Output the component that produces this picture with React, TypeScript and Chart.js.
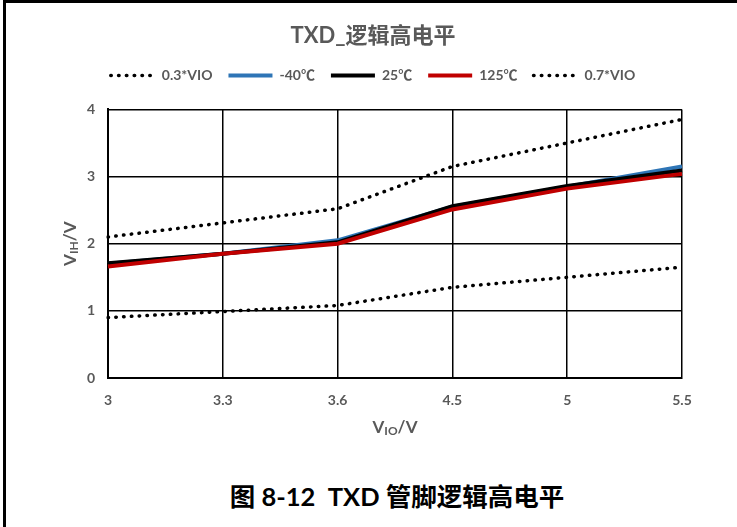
import React, { useEffect, useRef } from "react";
import { Chart, registerables, layouts } from "chart.js";

Chart.register(...registerables);

const categories = ["3", "3.3", "3.6", "4.5", "5", "5.5"];
const vio03 = [0.9, 0.99, 1.08, 1.35, 1.5, 1.65];
const tempM40 = [1.7, 1.85, 2.05, 2.55, 2.85, 3.15];
const temp25 = [1.71, 1.85, 2.02, 2.56, 2.86, 3.09];
const temp125 = [1.66, 1.85, 2.0, 2.51, 2.82, 3.04];
const vio07 = [2.1, 2.31, 2.52, 3.15, 3.5, 3.85];

const chartTitle = "TXD_逻辑高电平";
const caption = "图 8-12  TXD 管脚逻辑高电平";
const FONT = "Lato, 'Noto Sans CJK SC', sans-serif";
const GRAY = "#595959";

function drawSub(ctx: CanvasRenderingContext2D, main: string, sub: string, tail: string, cx: number, cy: number, rot: number) {
  ctx.save();
  ctx.translate(cx, cy);
  ctx.rotate(rot);
  const big = `bold 17px ${FONT}`;
  const small = `bold 12px ${FONT}`;
  ctx.font = big;
  const w1 = ctx.measureText(main).width;
  const w3 = ctx.measureText(tail).width;
  ctx.font = small;
  const w2 = ctx.measureText(sub).width;
  const total = w1 + w2 + w3;
  let x = -total / 2;
  ctx.fillStyle = GRAY;
  ctx.textBaseline = "alphabetic";
  ctx.textAlign = "left";
  ctx.font = big;
  ctx.fillText(main, x, 6);
  x += w1;
  ctx.font = small;
  ctx.fillText(sub, x, 8);
  x += w2;
  ctx.font = big;
  ctx.fillText(tail, x, 6);
  ctx.restore();
}

const axisTitles = {
  id: "axisTitles",
  afterDraw(chart: any) {
    const ctx = chart.ctx as CanvasRenderingContext2D;
    const { left, right, top, bottom } = chart.chartArea;
    drawSub(ctx, "V", "IO", "/V", (left + right) / 2, 427, 0);
    drawSub(ctx, "V", "IH", "/V", 70, (top + bottom) / 2, -Math.PI / 2);
  },
};

const spacer = {
  id: "legendSpacer",
  beforeInit(chart: any) {
    const box: any = {
      position: "top",
      weight: -10,
      fullSize: true,
      options: { stack: undefined, stackWeight: 1 },
      width: 0,
      height: 0,
      left: 0,
      top: 0,
      right: 0,
      bottom: 0,
      isHorizontal() { return true; },
      update(maxWidth: number) {
        this.width = maxWidth;
        this.height = 17;
        return { width: maxWidth, height: 17 };
      },
      draw() {},
    };
    layouts.addBox(chart, box);
  },
};

export default function App() {
  const ref = useRef<HTMLCanvasElement | null>(null);
  useEffect(() => {
    if (!ref.current) return;
    const dotted = {
      borderColor: "#000",
      backgroundColor: "#000",
      borderWidth: 3.5,
      borderDash: [0.5, 7.3],
      borderCapStyle: "round" as const,
      pointRadius: 0,
      tension: 0,
    };
    const solid = {
      borderWidth: 4,
      pointRadius: 0,
      tension: 0,
      borderCapStyle: "butt" as const,
    };
    const chart = new Chart(ref.current, {
      type: "line",
      data: {
        labels: categories,
        datasets: [
          { label: "0.3*VIO", data: vio03, ...dotted, order: 5 },
          { label: "-40℃", data: tempM40, ...solid, borderColor: "#2E75B6", backgroundColor: "#2E75B6", order: 3 },
          { label: "25℃", data: temp25, ...solid, borderColor: "#000000", backgroundColor: "#000000", order: 2 },
          { label: "125℃", data: temp125, ...solid, borderColor: "#C00000", backgroundColor: "#C00000", order: 1 },
          { label: "0.7*VIO", data: vio07, ...dotted, order: 4 },
        ],
      },
      options: {
        animation: false,
        responsive: false,
        layout: { padding: { left: 64, right: 55, top: 0, bottom: 0 } },
        plugins: {
          title: {
            display: true,
            text: chartTitle,
            color: GRAY,
            font: { family: FONT, size: 22, weight: "bold" },
            padding: { top: 23, bottom: 3 },
          },
          legend: {
            display: true,
            position: "top",
            labels: {
              usePointStyle: true,
              pointStyle: "line",
              pointStyleWidth: 44,
              boxHeight: 14,
              padding: 16,
              color: GRAY,
              font: { family: FONT, size: 14, weight: "bold" },
              sort: (a: any, b: any) => a.datasetIndex - b.datasetIndex,
              generateLabels: (c: any) => {
                const items = (Chart.defaults.plugins.legend.labels as any).generateLabels(c);
                items.forEach((it: any) => {
                  const ds: any = c.data.datasets[it.datasetIndex];
                  it.lineDash = ds.borderDash || [];
                  it.lineCap = ds.borderCapStyle;
                  it.lineWidth = ds.borderWidth;
                  it.strokeStyle = ds.borderColor;
                  it.fillStyle = ds.borderColor;
                });
                return items;
              },
            },
          },
          tooltip: { enabled: false },
        },
        scales: {
          x: {
            offset: false,
            grid: { color: "#000", lineWidth: 1.5, drawTicks: false },
            border: { color: "#000", width: 2 },
            ticks: { color: GRAY, font: { family: FONT, size: 14, weight: "bold" }, padding: 14, maxRotation: 0 },
            afterFit: (s: any) => { s.height = 82; },
          },
          y: {
            min: 0,
            max: 4,
            grid: { color: "#000", lineWidth: 1.5, drawTicks: false },
            border: { color: "#000", width: 2 },
            ticks: { stepSize: 1, color: GRAY, font: { family: FONT, size: 14, weight: "bold" }, padding: 13 },
            afterFit: (s: any) => { s.width = 44; },
          },
        },
      },
      plugins: [axisTitles, spacer],
    });
    return () => chart.destroy();
  }, []);

  return (
    <div style={{ position: "absolute", left: 0, top: 0, width: 737, height: 527, background: "#fff", overflow: "hidden" }}>
      <div style={{ position: "absolute", left: 3, top: 0, width: 734, height: 527, borderLeft: "3px solid #000", borderTop: "3px solid #000", boxSizing: "border-box" }} />
      <canvas ref={ref} width={737} height={460} style={{ position: "absolute", left: 0, top: 0 }} />
      <div style={{ position: "absolute", left: 0, width: 794, top: 476, textAlign: "center", fontFamily: FONT, fontWeight: "bold", fontSize: 25.5, color: "#000", whiteSpace: "pre" }}>
        {caption}
      </div>
    </div>
  );
}
